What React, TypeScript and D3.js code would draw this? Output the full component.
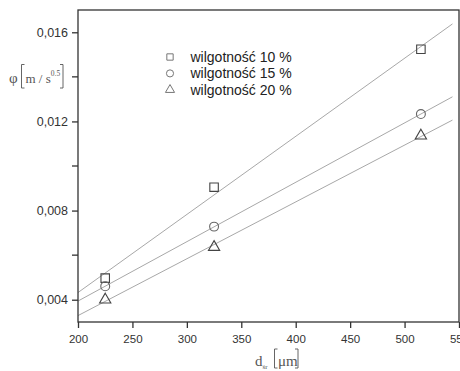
import React, { useRef, useEffect } from 'react';
import * as d3 from 'd3';

// średnica ziaren [µm]
const diameters = [225, 325, 515];
const series = [
  { name: 'wilgotność 10 %', symbol: 'square', values: [0.00497, 0.00905, 0.01524] },
  { name: 'wilgotność 15 %', symbol: 'circle', values: [0.0046, 0.00728, 0.01233] },
  { name: 'wilgotność 20 %', symbol: 'triangle', values: [0.0040, 0.00636, 0.01136] },
];
const xTicks = [200, 250, 300, 350, 400, 450, 500, 550];
const yTicks = [0.004, 0.008, 0.012, 0.016];
const yMinorTicks = [0.006, 0.010, 0.014];
const fitRange = [200, 544];

function fit(xs: number[], ys: number[]) {
  const mx = d3.mean(xs) as number;
  const my = d3.mean(ys) as number;
  let sxy = 0, sxx = 0;
  xs.forEach((x, i) => { sxy += (x - mx) * (ys[i] - my); sxx += (x - mx) * (x - mx); });
  const b = sxy / sxx;
  return (x: number) => my + b * (x - mx);
}

function symbolPath(kind: string, size: number) {
  const type = kind === 'square' ? d3.symbolSquare : kind === 'circle' ? d3.symbolCircle : d3.symbolTriangle;
  return d3.symbol().type(type).size(size)() as string;
}

// thin tall bracket, open side to the right (dir=1) or left (dir=-1)
function bracket(x: number, y0: number, y1: number, dir: number) {
  return 'M' + (x + 3 * dir) + ',' + y0 + 'H' + x + 'V' + y1 + 'H' + (x + 3 * dir);
}

function Chart() {
  const ref = useRef<SVGSVGElement>(null);

  useEffect(() => {
    const margin = { top: 10, right: 1, bottom: 49, left: 78 };
    const width = 460 - margin.left - margin.right;
    const height = 371 - margin.top - margin.bottom;

    const root = d3.select(ref.current);
    root.selectAll('*').remove();
    const svg = root.append('g')
      .attr('transform', 'translate(' + margin.left + ',' + margin.top + ')');

    const x = d3.scaleLinear().domain([200, 550]).range([0, width]);
    const y = d3.scaleLinear().domain([0.003, 0.017]).range([height, 0]);

    // fit lines
    const line = d3.line<[number, number]>().x(d => x(d[0])).y(d => y(d[1]));
    series.forEach(s => {
      const f = fit(diameters, s.values);
      svg.append('path')
        .attr('d', line(fitRange.map(v => [v, f(v)] as [number, number])))
        .attr('fill', 'none')
        .attr('stroke', '#a8a8a8')
        .attr('stroke-width', 1);
    });

    // points
    const sizes: Record<string, number> = { square: 72, circle: 62, triangle: 55 };
    series.forEach(s => {
      svg.selectAll(null)
        .data(s.values)
        .enter().append('path')
        .attr('d', symbolPath(s.symbol, sizes[s.symbol]))
        .attr('transform', (d, i) => 'translate(' + x(diameters[i]) + ',' + y(d) + ')')
        .attr('fill', 'none')
        .attr('stroke', s.symbol === 'circle' ? '#666' : '#444')
        .attr('stroke-width', 1.1);
    });

    // frame
    svg.append('rect')
      .attr('width', width).attr('height', height)
      .attr('fill', 'none').attr('stroke', '#333').attr('stroke-width', 1.3);

    // x axis
    const xAxis = svg.append('g')
      .attr('transform', 'translate(0,' + height + ')')
      .call(d3.axisBottom(x).tickValues(xTicks).tickSize(6).tickFormat(d3.format('d')));
    xAxis.select('.domain').remove();
    xAxis.selectAll('line').attr('stroke', '#333').attr('stroke-width', 1.3);
    xAxis.selectAll('text')
      .attr('fill', '#333')
      .attr('dy', '1.05em')
      .style('font-family', 'Liberation Sans, Arial, sans-serif')
      .style('font-size', '11.5px');

    // y axis
    const yAxis = svg.append('g')
      .call(d3.axisLeft(y).tickValues(yTicks).tickSize(6).tickPadding(4).tickFormat(d => d3.format('.3f')(d as number).replace('.', ',')));
    yAxis.select('.domain').remove();
    yAxis.selectAll('line').attr('stroke', '#333').attr('stroke-width', 1.3);
    yAxis.selectAll('text')
      .attr('fill', '#333')
      .style('font-family', 'Liberation Sans, Arial, sans-serif')
      .style('font-size', '12.5px');

    svg.selectAll('.minor')
      .data(yMinorTicks)
      .enter().append('line')
      .attr('x1', -6).attr('x2', 0)
      .attr('y1', d => y(d)).attr('y2', d => y(d))
      .attr('stroke', '#333').attr('stroke-width', 1.3);

    // legend
    const legend = svg.append('g').attr('transform', 'translate(92,47)');
    const legendSizes: Record<string, number> = { square: 40, circle: 40, triangle: 36 };
    series.forEach((s, i) => {
      const g = legend.append('g').attr('transform', 'translate(0,' + i * 16.4 + ')');
      g.append('path')
        .attr('d', symbolPath(s.symbol, legendSizes[s.symbol]))
        .attr('fill', 'none')
        .attr('stroke', '#777')
        .attr('stroke-width', 1);
      g.append('text')
        .attr('x', 20.5)
        .attr('y', 5)
        .attr('fill', '#222')
        .style('font-family', 'Liberation Sans, Arial, sans-serif')
        .style('font-size', '14px')
        .text(s.name);
    });

    // axis titles
    const serif = 'Liberation Serif, Times New Roman, serif';
    const titleColor = '#555';

    const yl = root.append('g');
    yl.append('text').attr('x', 9).attr('y', 83)
      .attr('fill', titleColor).style('font-family', serif).style('font-size', '15px')
      .text('φ');
    yl.append('path').attr('d', bracket(21.5, 64.5, 88, 1))
      .attr('fill', 'none').attr('stroke', titleColor).attr('stroke-width', 0.9);
    const inner = yl.append('text').attr('x', 25.5).attr('y', 83)
      .attr('fill', titleColor).style('font-family', serif).style('font-size', '13px');
    inner.append('tspan').text('m / s');
    inner.append('tspan').attr('dy', -7).style('font-size', '7.5px').text('0.5');
    yl.append('path').attr('d', bracket(63, 64.5, 88, -1))
      .attr('fill', 'none').attr('stroke', titleColor).attr('stroke-width', 0.9);

    const xl = root.append('g');
    const xt = xl.append('text').attr('x', 255).attr('y', 366)
      .attr('fill', titleColor).style('font-family', serif).style('font-size', '15px');
    xt.append('tspan').text('d');
    xt.append('tspan').attr('dy', 3).style('font-size', '7px').text('śr');
    xl.append('path').attr('d', bracket(274.5, 349, 368, 1))
      .attr('fill', 'none').attr('stroke', titleColor).attr('stroke-width', 0.9);
    xl.append('text').attr('x', 278).attr('y', 366)
      .attr('fill', titleColor).style('font-family', serif).style('font-size', '15px')
      .text('μm');
    xl.append('path').attr('d', bracket(298, 349, 368, -1))
      .attr('fill', 'none').attr('stroke', titleColor).attr('stroke-width', 0.9);
  }, []);

  return <svg ref={ref} width={460} height={371} style={{ position: 'absolute', left: 0, top: 0, background: '#fff' }} />;
}

export default function App() {
  return <Chart />;
}
